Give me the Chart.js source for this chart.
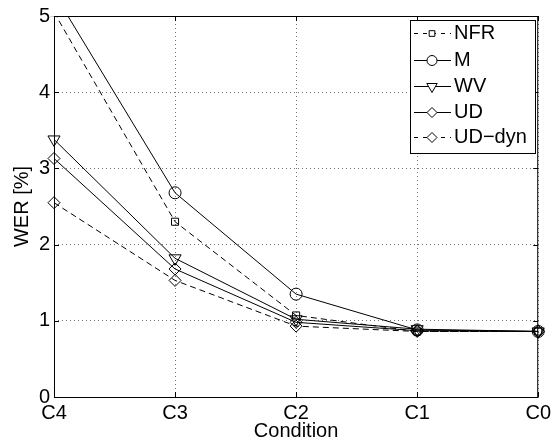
<!DOCTYPE html>
<html lang="en">
  <head>
    <meta charset="UTF-8" />
    <title>WER by condition</title>
    <style>
      * { margin: 0; padding: 0; box-sizing: border-box; }
      body { background: white; }
      .chartBox { width: 555px; height: 448px; }
    </style>
  </head>
  <body>
    <div class="chartBox">
      <canvas id="myChart" width="555" height="448"></canvas>
    </div>

    <script src="https://cdn.jsdelivr.net/npm/chart.js"></script>

    <script>
      const conditions = ["C4", "C3", "C2", "C1", "C0"];
      const yTicks = [0, 1, 2, 3, 4, 5];
      const seriesNames = ["NFR", "M", "WV", "UD", "UD\u2212dyn"];
      const nfr = [5.05, 2.3, 1.07, 0.86, 0.86];
      const m = [5.3, 2.68, 1.35, 0.88, 0.86];
      const wv = [3.38, 1.82, 1.02, 0.89, 0.86];
      const ud = [3.13, 1.68, 0.98, 0.87, 0.86];
      const udDyn = [2.55, 1.53, 0.93, 0.86, 0.86];

      const FONT = "Liberation Sans, Arial, sans-serif";
      const dash = [6, 4];

      // marker style per series
      const styles = [
        { dash: dash, point: "rect", radius: 5, rotation: 0 },
        { dash: [], point: "circle", radius: 6, rotation: 0 },
        { dash: [], point: "triangle", radius: 7, rotation: 180 },
        { dash: [], point: "rectRot", radius: 6, rotation: 0 },
        { dash: dash, point: "rectRot", radius: 6, rotation: 0 },
      ];
      const values = [nfr, m, wv, ud, udDyn];

      const datasets = values.map((vals, i) => ({
        label: seriesNames[i],
        data: vals,
        borderColor: "black",
        backgroundColor: "transparent",
        borderWidth: 1,
        borderDash: styles[i].dash,
        pointStyle: styles[i].point,
        pointRadius: styles[i].radius,
        pointRotation: styles[i].rotation,
        pointBorderColor: "black",
        pointBackgroundColor: "transparent",
        pointBorderWidth: 1,
        tension: 0,
        clip: { left: 10, right: 10, top: 0, bottom: 10 },
      }));

      const frame = {
        id: "frame",
        afterDatasetsDraw(chart) {
          const { ctx, chartArea: a, scales } = chart;
          ctx.save();
          ctx.strokeStyle = "black";
          ctx.lineWidth = 1;
          ctx.setLineDash([]);
          ctx.strokeRect(a.left + 0.5, a.top + 0.5, a.right - a.left - 1, a.bottom - a.top);
          ctx.beginPath();
          yTicks.forEach((t) => {
            const y = Math.round(scales.y.getPixelForValue(t)) + 0.5;
            ctx.moveTo(a.left, y);
            ctx.lineTo(a.left + 5, y);
            ctx.moveTo(a.right, y);
            ctx.lineTo(a.right - 5, y);
          });
          conditions.forEach((c, i) => {
            const x = Math.round(scales.x.getPixelForValue(i)) + 0.5;
            ctx.moveTo(x, a.bottom);
            ctx.lineTo(x, a.bottom - 5);
            ctx.moveTo(x, a.top);
            ctx.lineTo(x, a.top + 5);
          });
          ctx.stroke();
          ctx.restore();
        },
      };

      const boxLegend = {
        id: "boxLegend",
        afterDraw(chart) {
          const { ctx } = chart;
          const box = { x: 410.5, y: 20.5, w: 125, h: 133 };
          const rows = [33, 60, 86, 112, 137];
          ctx.save();
          ctx.fillStyle = "white";
          ctx.fillRect(box.x, box.y, box.w, box.h);
          ctx.strokeStyle = "black";
          ctx.lineWidth = 1;
          ctx.strokeRect(box.x, box.y, box.w, box.h);

          ctx.font = "20px " + FONT;
          ctx.textBaseline = "middle";
          ctx.fillStyle = "black";
          seriesNames.forEach((name, i) => {
            const y = rows[i] + 0.5;
            ctx.setLineDash(styles[i].dash.length ? [4, 5] : []);
            ctx.beginPath();
            ctx.moveTo(414, y);
            ctx.lineTo(451, y);
            ctx.stroke();
            ctx.setLineDash([]);
            ctx.fillStyle = "white";
            Chart.helpers.drawPoint(ctx, {
              pointStyle: styles[i].point,
              radius: styles[i].radius - 1,
              rotation: styles[i].rotation,
              borderWidth: 1,
            }, 432, y);
            ctx.fillStyle = "black";
            ctx.fillText(name, 454, y);
          });
          ctx.restore();
        },
      };

      const config = {
        type: "line",
        data: { labels: conditions, datasets: datasets },
        options: {
          responsive: false,
          animation: false,
          layout: { padding: { top: 14, right: 15, left: 0, bottom: 0 } },
          plugins: {
            legend: { display: false },
            tooltip: { enabled: false },
          },
          scales: {
            x: {
              type: "category",
              offset: false,
              afterFit(scale) { scale.height = 51; },
              grid: { color: "rgba(0,0,0,0.55)", drawTicks: false },
              border: { display: false, dash: [1, 3] },
              ticks: {
                color: "black",
                padding: 4,
                maxRotation: 0,
                font: { family: FONT, size: 20 },
              },
              title: {
                display: true,
                text: "Condition",
                color: "black",
                padding: { top: 0, bottom: 5 },
                font: { family: FONT, size: 20 },
              },
            },
            y: {
              min: 0,
              max: 5,
              afterFit(scale) { scale.width = 54; },
              afterBuildTicks(scale) {
                scale.ticks = yTicks.map((v) => ({ value: v }));
              },
              grid: { color: "rgba(0,0,0,0.55)", drawTicks: false },
              border: { display: false, dash: [1, 3] },
              ticks: {
                color: "black",
                padding: 4,
                font: { family: FONT, size: 20 },
              },
              title: {
                display: true,
                text: "WER [%]",
                color: "black",
                padding: { top: 10, bottom: 0 },
                font: { family: FONT, size: 20 },
              },
            },
          },
        },
        plugins: [frame, boxLegend],
      };

      const myChart = new Chart(document.getElementById("myChart"), config);
    </script>
  </body>
</html>
